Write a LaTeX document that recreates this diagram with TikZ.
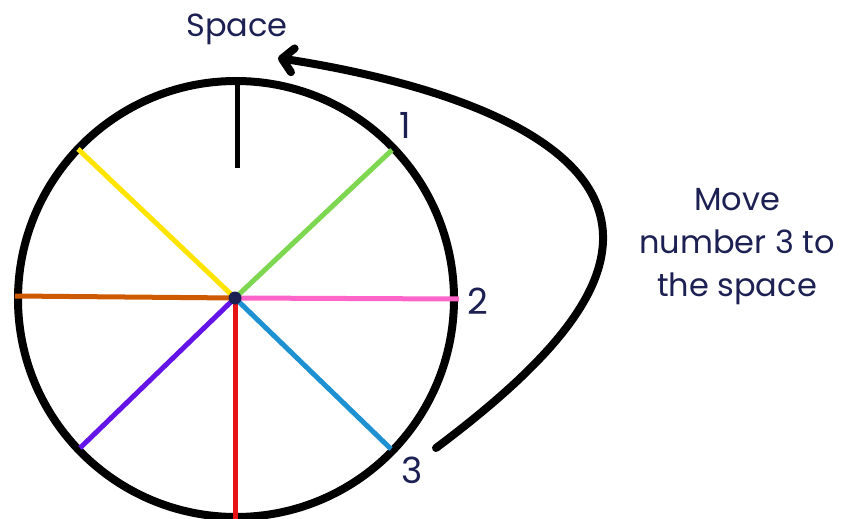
\documentclass[tikz,border=0pt]{standalone}
\usepackage{fontspec}
\setmainfont{Poppins}
\usetikzlibrary{arrows.meta}
\usepackage{xcolor}
\definecolor{labelnavy}{RGB}{28,32,82}
\definecolor{spokeyellow}{RGB}{255,228,0}
\definecolor{spokegreen}{RGB}{125,215,80}
\definecolor{spokepink}{RGB}{255,100,200}
\definecolor{spokeblue}{RGB}{30,145,210}
\definecolor{spokered}{RGB}{230,20,20}
\definecolor{spokepurple}{RGB}{100,20,230}
\definecolor{spokeorange}{RGB}{205,90,0}

\begin{document}
\begin{tikzpicture}[
  x=1pt, y=-1pt,
  every node/.style={text=labelnavy, font=\fontsize{32}{43}\selectfont},
  rim/.style={draw=black, line width=8pt},
  spoke/.style={line width=5pt},
  num/.style={font=\fontsize{36}{36}\selectfont, anchor=base},
  hubdot/.style={circle, fill=labelnavy, inner sep=0pt, minimum size=13pt},
  arr/.style={-{Straight Barb[round, length=11pt, width=24pt]}, line width=8pt, line cap=round},
]
  \useasboundingbox (0,0) rectangle (849,519);
  % wheel
  \coordinate (hub) at (235,298);
  \draw[rim] (236,299) circle[radius=218];
  \draw[line width=5pt] (237,82) -- (237,168);
  % spoke ends
  \coordinate (endgreen)  at (392,150);
  \coordinate (endpink)   at (459,299);
  \coordinate (endblue)   at (391,449);
  \coordinate (endred)    at (235,525);
  \coordinate (endpurple) at (80,448);
  \coordinate (endorange) at (15,296);
  \coordinate (endyellow) at (78,149);
  % spokes
  \draw[spoke, spokeyellow] (hub) -- (endyellow);
  \draw[spoke, spokegreen]  (hub) -- (endgreen);
  \draw[spoke, spokepink]   (hub) -- (endpink);
  \draw[spoke, spokeblue]   (hub) -- (endblue);
  \draw[spoke, spokered]    (hub) -- (endred);
  \draw[spoke, spokepurple] (hub) -- (endpurple);
  \draw[spoke, spokeorange] (hub) -- (endorange);
  \node[hubdot] (centre) at (hub) {};
  % labels
  \node[anchor=base] (space) at (237,37) {Space};
  \node[num] (one)   at (405,139) {1};
  \node[num] (two)   at (478,314) {2};
  \node[num] (three) at (412,483) {3};
  \node[anchor=base, align=center] (note) at (737,296) {Move\\number 3 to\\the space};
  % move arrow
  \coordinate (from3) at (436,448);
  \coordinate (gap) at (278,58);
  \draw[arr] (from3) .. controls (540,370) and (605,300) .. (603,235)
    .. controls (600,130) and (420,80) .. (gap);
\end{tikzpicture}
\end{document}
